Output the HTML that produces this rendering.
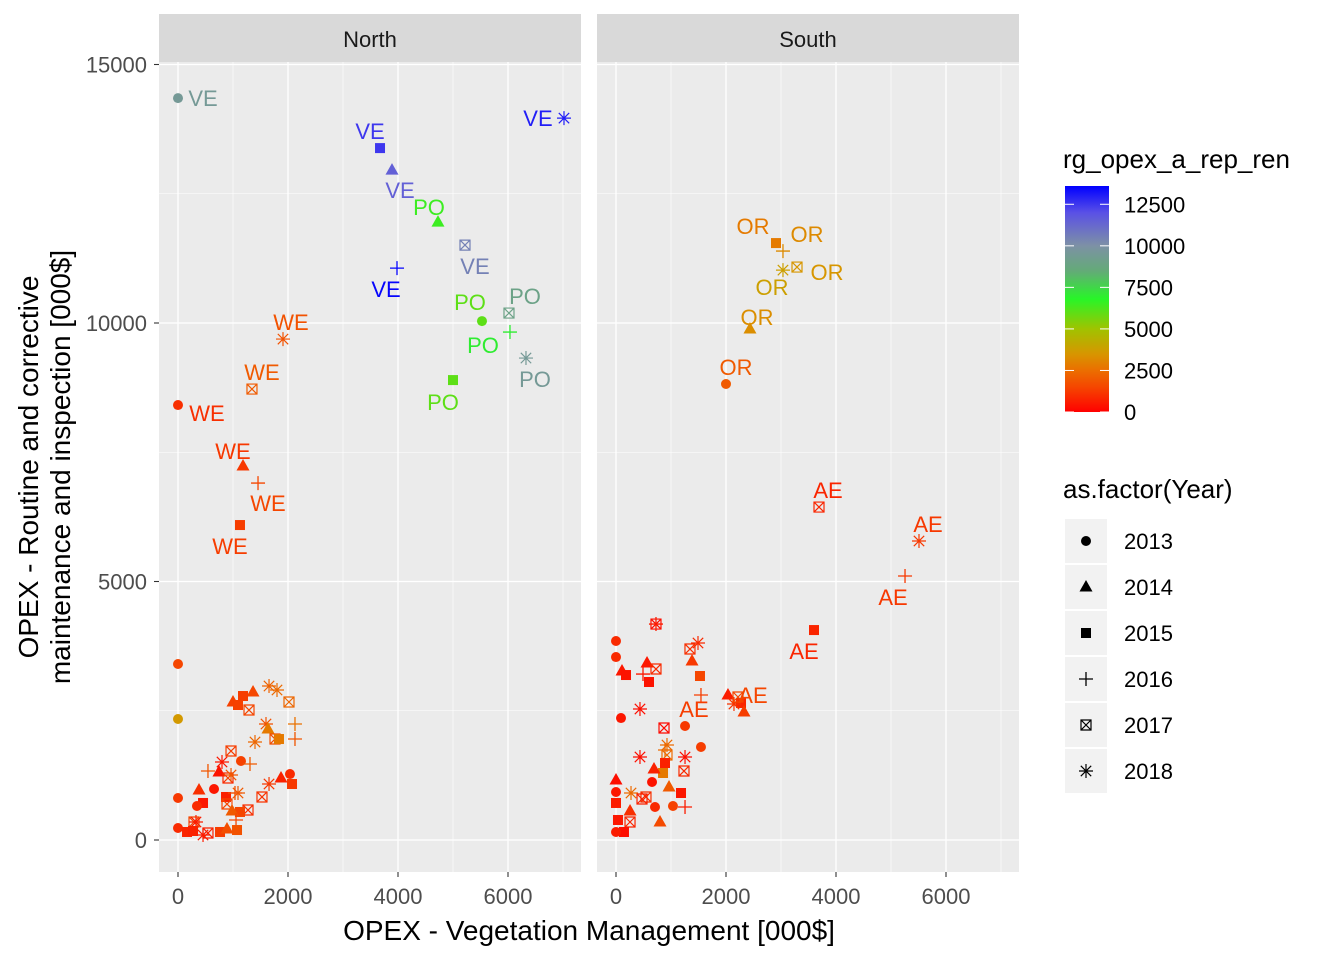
<!DOCTYPE html>
<html><head><meta charset="utf-8"><style>
html,body{margin:0;padding:0;background:#fff;}
svg{display:block;font-family:"Liberation Sans",Arial,sans-serif;}
</style></head><body>
<svg id="chart" width="1344" height="960" viewBox="0 0 1344 960"></svg>
<script>
// ---------- DATA ----------
// shapes: 0=2013 circle,1=2014 triangle,2=2015 square,3=2016 plus,4=2017 box-x,5=2018 asterisk
const yearLabels=["2013","2014","2015","2016","2017","2018"];
const northX=[0,0,0,0,1000,1364,1182,1091,1655,1800,2018,1291,1600,1636,2127,1764,1836,2127,1400,964,1145,1309,800,545,745,909,964,1873,2036,2073,1655,1527,382,655,1091,873,1036,455,891,345,1273,1127,982,1055,291,327,164,273,545,455,764,891,1073,
 0,3673,3891,7018,3982,5218,4727,5527,6036,6018,6327,5000,0,1909,1345,1182,1455,1127];
const northY=[3404,2340,812,232,2669,2862,2785,2611,2978,2901,2669,2514,2243,2147,2243,1953,1953,1953,1895,1721,1528,1470,1508,1334,1315,1199,1257,1199,1276,1083,1083,832,967,986,909,832,909,716,696,658,580,542,561,387,348,348,155,174,135,97,155,213,193,
 14350,13383,12958,13963,11062,11507,11952,10037,9825,10192,9322,8896,8413,9689,8722,7233,6904,6092];
const northShape=[0,0,0,0,1,1,2,2,5,5,4,4,5,1,3,4,2,3,5,4,0,3,5,3,1,4,5,1,0,2,5,4,1,0,5,2,3,2,4,0,4,2,1,3,4,5,2,2,4,5,2,1,2,
 0,2,1,5,3,4,1,0,3,4,5,2,0,5,4,1,3,2];
const northColor=[1500,3600,1200,900,1400,1500,1300,1400,2200,2400,2300,1500,1800,2800,2600,1700,2800,1900,2300,1300,1400,2000,500,1900,400,900,1900,700,900,1200,1200,1100,1000,500,2000,700,1800,500,1500,900,1000,1500,2000,1500,1500,600,800,700,700,600,1300,1700,1800,
 9500,12500,11500,13000,13500,10500,6500,6000,7000,9000,9500,6000,1000,1800,2000,1200,1500,1300];
const northLabel=[...Array(53).fill(""),"VE","VE","VE","VE","VE","VE","PO","PO","PO","PO","PO","PO","WE","WE","WE","WE","WE","WE"];
const southX=[727,727,0,0,1491,1345,564,727,1382,109,182,1527,491,600,436,91,2036,2273,2145,2327,873,1255,1545,927,891,927,436,1255,1236,891,855,691,655,0,964,1182,1255,273,545,473,0,0,709,1036,255,800,36,255,145,0,
 2909,3036,3036,3291,2436,2000,3691,5509,5255,3600,1545,2218];
const southY=[4177,4177,3849,3539,3810,3694,3423,3307,3462,3268,3191,3172,3210,3056,2534,2359,2804,2650,2630,2476,2166,2205,1799,1837,1741,1644,1605,1605,1334,1489,1296,1373,1122,1160,1025,909,638,909,832,793,928,716,638,658,561,348,387,348,155,155,
 11546,11391,11023,11082,9883,8820,6440,5783,5106,4061,2804,2766];
const southShape=[4,3,0,0,5,4,1,4,1,1,2,2,3,2,5,0,1,2,5,1,4,0,0,5,3,4,5,5,4,2,2,1,0,1,1,2,3,5,4,4,0,2,0,0,1,1,2,4,2,0,
 2,3,5,4,1,0,4,5,3,2,3,4];
const southColor=[300,600,900,900,900,1000,500,900,1200,500,400,1500,500,400,300,500,600,800,1100,1300,200,1200,1300,2400,2400,2400,300,300,900,700,2800,700,400,300,2000,500,600,2400,1000,700,500,600,900,1400,1000,1600,500,800,300,600,
 2800,3200,3800,3500,3300,2000,800,1200,1200,800,1300,1500];
const southLabel=[...Array(50).fill(""),"OR","OR","OR","OR","OR","OR","AE","AE","AE","AE","AE","AE"];
// label offsets (style, px)
const northLabOff={53:[25,0],54:[-10,-17],55:[8,20],56:[-26,0],57:[-11,21],58:[10,21],59:[-9,-15],60:[-12,-19],61:[-27,13],62:[16,-17],63:[9,21],64:[-10,22],65:[29,8],66:[8,-17],67:[10,-17],68:[-10,-15],69:[10,20],70:[-10,21]};
const southLabOff={50:[-23,-17],51:[24,-17],52:[-11,17],53:[30,5],54:[7,-12],55:[10,-17],56:[9,-17],57:[9,-17],58:[-12,21],59:[-10,21],60:[-7,14],61:[15,-2]};
const xTicks=[0,2000,4000,6000];
const yTicks=[0,5000,10000,15000];
const colorTicks=[0,2500,5000,7500,10000,12500];

// ---------- SCALES ----------
const NS="http://www.w3.org/2000/svg";
const svg=document.getElementById('chart');
function mk(tag,attrs,parent){const e=document.createElementNS(NS,tag);for(const k in attrs)e.setAttribute(k,attrs[k]);(parent||svg).appendChild(e);return e;}
const panels=[{x0:159,x1:581,zero:178,name:"North"},{x0:597,x1:1019,zero:616,name:"South"}];
const PX=0.055, PY0=840, PYS=0.0517, PT=62, PB=872;
function sx(p,v){return panels[p].zero+v*PX;}
function sy(v){return PY0-v*PYS;}
const cStops=[[0,[255,0,0]],[1500,[245,70,0]],[2500,[235,110,0]],[3500,[215,150,0]],[5000,[160,195,0]],[6800,[40,245,40]],[8500,[100,170,120]],[10000,[125,145,165]],[12000,[90,80,230]],[13600,[0,0,255]]];
function col(v){for(let i=1;i<cStops.length;i++){if(v<=cStops[i][0]){const a=cStops[i-1],b=cStops[i];const t=(v-a[0])/(b[0]-a[0]);const c=a[1].map((x,j)=>Math.round(x+(b[1][j]-x)*t));return `rgb(${c[0]},${c[1]},${c[2]})`;}}return 'rgb(0,0,255)';}

// ---------- PANELS ----------
panels.forEach((p,pi)=>{
  const g=mk('g',{});
  
  
  mk('rect',{x:p.x0,y:PT,width:p.x1-p.x0,height:PB-PT,fill:'#ebebeb'},g);
  [1000,3000,5000,7000].forEach(v=>mk('line',{x1:sx(pi,v),x2:sx(pi,v),y1:PT,y2:PB,stroke:'#fff','stroke-width':0.6},g));
  [2500,7500,12500].forEach(v=>mk('line',{x1:p.x0,x2:p.x1,y1:sy(v),y2:sy(v),stroke:'#fff','stroke-width':0.6},g));
  xTicks.forEach(v=>mk('line',{x1:sx(pi,v),x2:sx(pi,v),y1:PT,y2:PB,stroke:'#fff','stroke-width':1.3},g));
  yTicks.forEach(v=>mk('line',{x1:p.x0,x2:p.x1,y1:sy(v),y2:sy(v),stroke:'#fff','stroke-width':1.3},g));
  const strip=mk('rect',{x:p.x0,y:14,width:p.x1-p.x0,height:48,fill:'#d9d9d9'},g);
  
  
  const st=mk('text',{x:(p.x0+p.x1)/2,y:47,'text-anchor':'middle','font-size':22,fill:'#1a1a1a'},g);
  st.textContent=p.name;
  
  
  xTicks.forEach(v=>{
    mk('line',{x1:sx(pi,v),x2:sx(pi,v),y1:PB,y2:PB+5,stroke:'#333','stroke-width':1.1},g);
    const t=mk('text',{x:sx(pi,v),y:904,'text-anchor':'middle','font-size':22,fill:'#4d4d4d'},g);
    t.textContent=v;  
  });
});
yTicks.forEach(v=>{
  mk('line',{x1:154,x2:159,y1:sy(v),y2:sy(v),stroke:'#333','stroke-width':1.1});
  const t=mk('text',{x:147,y:sy(v)+8,'text-anchor':'end','font-size':22,fill:'#4d4d4d'});
  t.textContent=v;  
});
const xt=mk('text',{x:589,y:940,'text-anchor':'middle','font-size':28,fill:'#000'});
xt.textContent='OPEX - Vegetation Management [000$]';

const yt=mk('text',{transform:'translate(38,467) rotate(-90)','text-anchor':'middle','font-size':28,fill:'#000'});

const ts1=mk('tspan',{x:0,dy:0},yt);ts1.textContent='OPEX - Routine and corrective';
const ts2=mk('tspan',{x:0,dy:32},yt);ts2.textContent='maintenance and inspection [000$]';

// ---------- MARKS ----------
function shape(g,s,x,y,c){
  let e;
  if(s===0)e=mk('circle',{cx:x,cy:y,r:5,fill:c},g);
  else if(s===1)e=mk('polygon',{points:`${x},${y-7} ${x+6.5},${y+4.5} ${x-6.5},${y+4.5}`,fill:c},g);
  else if(s===2)e=mk('rect',{x:x-5,y:y-5,width:10,height:10,fill:c},g);
  else if(s===3)e=mk('path',{d:`M${x-7},${y}H${x+7}M${x},${y-7}V${y+7}`,stroke:c,'stroke-width':1.3,fill:'none'},g);
  else if(s===4)e=mk('path',{d:`M${x-5},${y-5}h10v10h-10zM${x-5},${y-5}l10,10M${x+5},${y-5}l-10,10`,stroke:c,'stroke-width':1.2,fill:'none'},g);
  else e=mk('path',{d:`M${x-7},${y}H${x+7}M${x},${y-7}V${y+7}M${x-5.2},${y-5.2}l10.4,10.4M${x+5.2},${y-5.2}l-10.4,10.4`,stroke:c,'stroke-width':1.2,fill:'none'},g);
  return e;
}
function drawSeries(pi,X,Y,S,C,L,off){
  const g=mk('g',{});
  
  
  for(let i=0;i<X.length;i++){
    const e=shape(g,S[i],sx(pi,X[i]),sy(Y[i]),col(C[i]));
    
    
  }
  for(let i=0;i<X.length;i++){
    if(!L[i])continue;
    const o=off[i]||[0,-15];
    const t=mk('text',{x:sx(pi,X[i])+o[0],y:sy(Y[i])+o[1]+8,'text-anchor':'middle','font-size':22,fill:col(C[i])},g);
    t.textContent=L[i];
    
    
  }
}
drawSeries(0,northX,northY,northShape,northColor,northLabel,northLabOff);
drawSeries(1,southX,southY,southShape,southColor,southLabel,southLabOff);

// ---------- LEGENDS ----------
const lg=mk('g',{});
const lt=mk('text',{x:1063,y:168,'font-size':26,fill:'#000'},lg);lt.textContent='rg_opex_a_rep_ren';
const defs=mk('defs',{});
const grad=mk('linearGradient',{id:'cg',x1:0,y1:1,x2:0,y2:0},defs);
const vmax=13600;
cStops.forEach(s=>mk('stop',{offset:s[0]/vmax,'stop-color':`rgb(${s[1].join(',')})`},grad));
const cbTop=186,cbBot=412;
mk('rect',{x:1065,y:cbTop,width:44,height:cbBot-cbTop,fill:'url(#cg)'},lg);
colorTicks.forEach(v=>{
  const y=cbBot-v/vmax*(cbBot-cbTop);
  mk('line',{x1:1065,x2:1074,y1:y,y2:y,stroke:'#fff','stroke-width':1},lg);
  mk('line',{x1:1100,x2:1109,y1:y,y2:y,stroke:'#fff','stroke-width':1},lg);
  const t=mk('text',{x:1124,y:y+8,'font-size':22,fill:'#000'},lg);t.textContent=v;
  
});
const yg=mk('g',{});
const yt2=mk('text',{x:1063,y:498,'font-size':26,fill:'#000'},yg);yt2.textContent='as.factor(Year)';
yearLabels.forEach((lab,i)=>{
  const cy=541+i*46;
  const e=mk('g',{},yg);
  
  
  mk('rect',{x:1065,y:cy-22,width:42,height:44,fill:'#f2f2f2'},e);
  shape(e,i,1086,cy,'#000');
  const t=mk('text',{x:1124,y:cy+8,'font-size':22,fill:'#000'},e);t.textContent=lab;
});
</script>
</body></html>
